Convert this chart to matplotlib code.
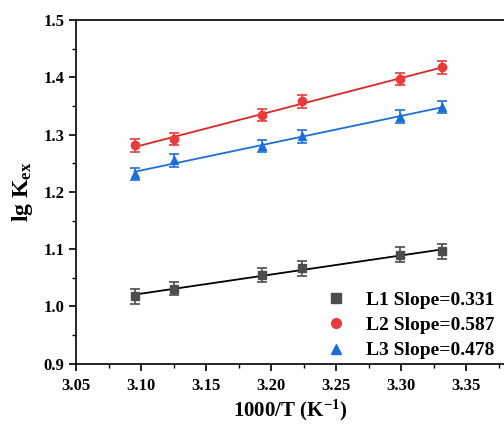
import numpy as np
import matplotlib
matplotlib.use('Agg')
import matplotlib.pyplot as plt
from matplotlib.ticker import MultipleLocator, FormatStrFormatter
from matplotlib.lines import Line2D

# --- datos ---
inv_t = [3.095, 3.125, 3.193, 3.224, 3.299, 3.331]
lgk_l1 = [1.018, 1.031, 1.055, 1.067, 1.090, 1.096]
lgk_l2 = [1.281, 1.292, 1.334, 1.358, 1.397, 1.417]
lgk_l3 = [1.231, 1.255, 1.280, 1.297, 1.331, 1.348]
err_l1 = [0.013, 0.011, 0.013, 0.013, 0.013, 0.013]
err_l2 = [0.011, 0.010, 0.010, 0.011, 0.011, 0.012]
err_l3 = [0.010, 0.011, 0.010, 0.011, 0.011, 0.011]
etiquetas = ['L1 Slope=0.331', 'L2 Slope=0.587', 'L3 Slope=0.478']

plt.rcParams['font.family'] = ['Liberation Serif', 'DejaVu Serif']
plt.rcParams['font.weight'] = 'bold'
plt.rcParams['mathtext.fontset'] = 'custom'
plt.rcParams['mathtext.rm'] = 'Liberation Serif:bold'
plt.rcParams['mathtext.it'] = 'Liberation Serif:bold'

fig = plt.figure(figsize=(5.04, 4.24), dpi=100)
ax = fig.add_axes([0.151, 0.142, 0.849, 0.811])

series = [
    (lgk_l1, err_l1, '#4d4d4d', '#000000', 's'),
    (lgk_l2, err_l2, '#e83b3b', '#e02525', 'o'),
    (lgk_l3, err_l3, '#1c6fd8', '#1c6fd8', '^'),
]
x = np.array(inv_t)
handles = []
for (y, e, c, cl, m), lab in zip(series, etiquetas):
    ax.errorbar(x, y, yerr=e, fmt=m, color=c, ms=6, ecolor=c, elinewidth=1.2,
                capsize=3.5, capthick=1.2, zorder=3)
    p = np.polyfit(x, y, 1)
    ax.plot(x, np.polyval(p, x), color=cl, lw=1.3, zorder=2)
    handles.append(Line2D([], [], ls='none', marker=m, color=c, ms=7, label=lab))

ax.set_xlim(3.05, 3.379)
ax.set_ylim(0.9, 1.5)
ax.xaxis.set_major_locator(MultipleLocator(0.05))
ax.xaxis.set_minor_locator(MultipleLocator(0.025))
ax.yaxis.set_major_locator(MultipleLocator(0.1))
ax.yaxis.set_minor_locator(MultipleLocator(0.05))
ax.xaxis.set_major_formatter(FormatStrFormatter('%.2f'))
ax.yaxis.set_major_formatter(FormatStrFormatter('%.1f'))
ax.tick_params(which='major', direction='out', length=5, width=1.2, labelsize=12)
ax.tick_params(which='minor', direction='out', length=3, width=1.0)
ax.tick_params(axis='x', pad=5)
for s in ax.spines.values():
    s.set_linewidth(1.2)
ax.spines['right'].set_visible(False)

ax.set_xlabel('1000/T (K$^{-1}$)', fontsize=15, fontweight='bold', labelpad=3)
ax.set_ylabel('lg K$_{\\mathrm{ex}}$', fontsize=17, fontweight='bold', labelpad=6)

ax.legend(handles=handles, loc='lower right', frameon=False, fontsize=14,
          handlelength=1.0, handletextpad=1.0, labelspacing=0.4,
          borderaxespad=0.0, bbox_to_anchor=(0.995, -0.01))

fig.savefig('out.png', dpi=100)
